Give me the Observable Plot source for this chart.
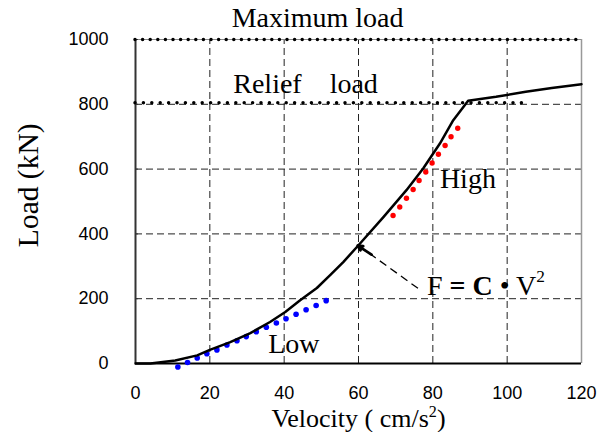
<!DOCTYPE html>
<html>
<head>
<meta charset="utf-8">
<script src="https://cdn.jsdelivr.net/npm/d3@7"></script>
<script src="https://cdn.jsdelivr.net/npm/@observablehq/plot@0.6"></script>
<style>
  html, body { margin: 0; padding: 0; background: #fff; }
</style>
</head>
<body>
<div id="chart"></div>
<script>
// Main load curve (velocity, load)
const curveV = [0, 4, 10.7, 16.6, 20, 25.5, 30.9, 36.2, 40.3, 44.3, 48.8, 52.3, 55.9, 60, 66.7, 72.9, 77.4, 81.9, 85.5, 89.5, 97, 105, 112, 120];
const curveF = [0, 0, 9, 25, 42, 66, 94, 128, 159, 195, 233, 272, 313, 365, 452, 535, 602, 679, 751, 811, 823, 839, 850, 862];
// Low-speed fit (blue dots)
const lowV = [11.4, 14.0, 16.6, 19.2, 21.9, 24.6, 27.3, 29.8, 32.5, 35.2, 37.9, 40.5, 43.2, 45.9, 48.6, 51.3];
const lowF = [-11, 3, 17, 30, 42, 57, 70, 83, 98, 112, 125, 138, 152, 166, 179, 194];
// High-speed fit (red dots)
const highV = [69.3, 71.1, 72.9, 74.7, 76.3, 78.1, 79.8, 81.5, 83.3, 84.9, 86.7];
const highF = [457, 483, 510, 537, 565, 591, 619, 646, 673, 700, 726];
// Reference loads
const maxLoad = 1000;
const reliefLoad = 805;
// Ticks
const xTicks = [0, 20, 40, 60, 80, 100, 120];
const yTicks = [0, 200, 400, 600, 800, 1000];
const xGrid = [20, 40, 60, 80, 100];
const yGrid = [200, 400, 600, 800];

const curve = curveV.map((v, i) => ({v, f: curveF[i]}));
const low = lowV.map((v, i) => ({v, f: lowF[i]}));
const high = highV.map((v, i) => ({v, f: highF[i]}));

const serif = "'Liberation Serif', 'Times New Roman', serif";
const fs = 28;

const chart = Plot.plot({
  width: 612,
  height: 432,
  marginLeft: 135,
  marginRight: 31,
  marginTop: 39,
  marginBottom: 69,
  x: {domain: [0, 120]},
  y: {domain: [0, 1000]},
  style: {fontFamily: "'Liberation Sans', Arial, sans-serif", fontSize: "18px", color: "#000", background: "#fff"},
  marks: [
    // grid
    Plot.ruleX(xGrid, {y1: 0, y2: maxLoad, stroke: "#222", strokeWidth: 1, strokeDasharray: "7,4"}),
    Plot.ruleY(yGrid, {x1: 0, x2: 120, stroke: "#222", strokeWidth: 1, strokeDasharray: "7,4"}),
    // frame
    Plot.ruleX([120], {y1: 0, y2: maxLoad, stroke: "#999", strokeWidth: 1.5}),
    Plot.ruleY([maxLoad], {x1: 0, x2: 120, stroke: "#888", strokeWidth: 1}),
    Plot.ruleX([0], {y1: 0, y2: maxLoad, stroke: "#333", strokeWidth: 2}),
    Plot.ruleY([0], {x1: 0, x2: 120, stroke: "#000", strokeWidth: 2}),
    Plot.ruleY(yTicks, {x1: 0, x2: 0.8, stroke: "#333", strokeWidth: 1}),
    // reference load lines (dotted)
    Plot.ruleY([maxLoad], {x1: 0, x2: 120, stroke: "#000", strokeWidth: 3.5, strokeLinecap: "round", strokeDasharray: "0,7.6"}),
    Plot.ruleY([reliefLoad], {x1: 0, x2: 104, stroke: "#000", strokeWidth: 3.5, strokeLinecap: "round", strokeDasharray: "0,8.4"}),
    // fits
    Plot.dot(low, {x: "v", y: "f", r: 2.8, fill: "#0000ff", stroke: "none"}),
    Plot.dot(high, {x: "v", y: "f", r: 2.7, fill: "#ff0000", stroke: "none"}),
    // main curve
    Plot.line(curve, {x: "v", y: "f", stroke: "#000", strokeWidth: 2.5, strokeLinejoin: "round"}),
    // arrow annotation
    Plot.link([{x1: 76, y1: 232, x2: 61, y2: 356}], {x1: "x1", y1: "y1", x2: "x2", y2: "y2", stroke: "#000", strokeWidth: 1.3, strokeDasharray: "8,5"}),
    Plot.arrow([{x1: 63.5, y1: 336, x2: 59.8, y2: 364}], {x1: "x1", y1: "y1", x2: "x2", y2: "y2", stroke: "#000", strokeWidth: 2.8, headLength: 14, headAngle: 55}),
    // axes
    Plot.axisX(xTicks, {tickSize: 0, tickPadding: 23, label: null, tickFormat: d => String(d)}),
    Plot.axisY(yTicks, {tickSize: 0, tickPadding: 27, label: null, tickFormat: d => String(d)}),
    // annotations
    Plot.text(["Maximum load"], {x: 49, y: 1038, lineAnchor: "bottom", textAnchor: "middle", fontFamily: serif, fontSize: fs}),
    Plot.text(["Relief    load"], {x: 26.3, y: 836, lineAnchor: "bottom", textAnchor: "start", fontFamily: serif, fontSize: fs}),
    Plot.text(["High"], {x: 81.9, y: 541, lineAnchor: "bottom", textAnchor: "start", fontFamily: serif, fontSize: fs}),
    Plot.text(["Low"], {x: 35.7, y: 32, lineAnchor: "bottom", textAnchor: "start", fontFamily: serif, fontSize: fs}),
    Plot.text(["F = C \u2022 V2"], {x: 78.4, y: 210, lineAnchor: "bottom", textAnchor: "start", fontFamily: serif, fontSize: fs}),
    // axis titles
    Plot.text(["Velocity ( cm/s2)"], {x: 60, y: -194.7, lineAnchor: "bottom", textAnchor: "middle", fontFamily: serif, fontSize: 26}),
    Plot.text(["Load (kN)"], {x: -28.7, y: 550, rotate: -90, textAnchor: "middle", fontFamily: serif, fontSize: 29.5})
  ]
});

// Rich text: bold "= C", superscript 2
d3.select(chart).selectAll("text").each(function() {
  const t = this.textContent;
  const sel = d3.select(this);
  if (t === "F = C \u2022 V2") {
    sel.text("");
    sel.append("tspan").text("F ");
    sel.append("tspan").attr("font-weight", "bold").text("= C");
    sel.append("tspan").text(" \u2022 V");
    sel.append("tspan").attr("font-size", "0.62em").attr("dy", "-0.75em").text("2");
  } else if (t === "Velocity ( cm/s2)") {
    sel.text("");
    sel.append("tspan").text("Velocity ( cm/s");
    sel.append("tspan").attr("font-size", "0.62em").attr("dy", "-0.6em").text("2");
    sel.append("tspan").attr("dy", "0.372em").text(")");
  }
});

document.getElementById("chart").appendChild(chart);
</script>
</body>
</html>
